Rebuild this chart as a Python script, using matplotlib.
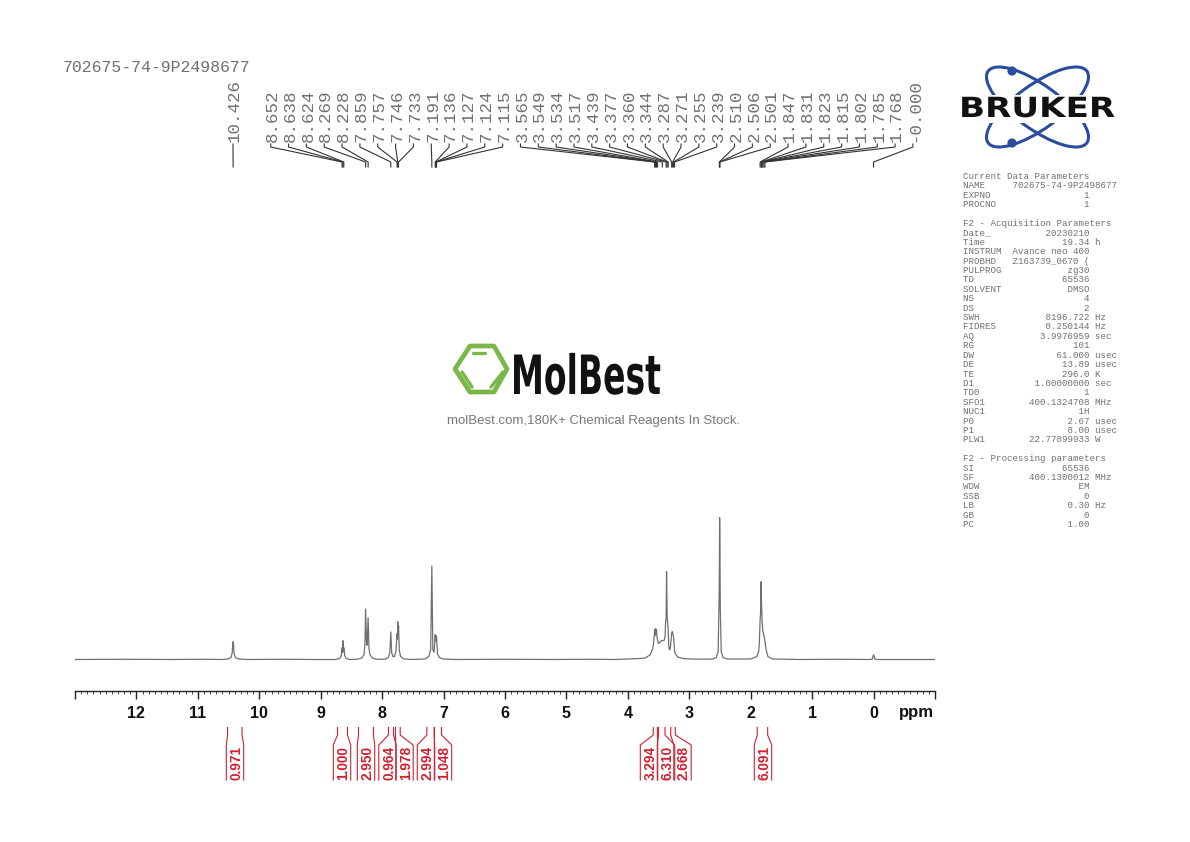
import matplotlib
matplotlib.use("Agg")
import matplotlib.pyplot as plt
from matplotlib.patches import Ellipse, Polygon, Rectangle, Circle
from matplotlib.patheffects import AbstractPathEffect
from matplotlib.transforms import Affine2D

# spectrum: chemical shift and height above baseline
spec_ppm = [13.0, 12.2, 11.4, 10.9, 10.6, 10.5, 10.46, 10.44, 10.43, 10.426, 10.42, 10.41, 10.39, 10.34, 10.2,
            9.6, 9.1, 8.75, 8.69, 8.665, 8.652, 8.645, 8.638, 8.63, 8.624, 8.61, 8.585, 8.53,
            8.4, 8.33, 8.295, 8.28, 8.269, 8.255, 8.245, 8.228, 8.215, 8.2, 8.16, 8.1,
            7.95, 7.9, 7.875, 7.859, 7.845, 7.825, 7.8, 7.775, 7.757, 7.751, 7.746, 7.74, 7.733, 7.72, 7.7, 7.65, 7.55,
            7.3, 7.24, 7.21, 7.191, 7.175, 7.155, 7.136, 7.13, 7.127, 7.124, 7.12, 7.115, 7.1, 7.07, 7.0, 6.8,
            6.0, 5.2, 4.6, 4.2, 3.95, 3.8, 3.72, 3.64, 3.6, 3.585, 3.57, 3.565, 3.557, 3.549, 3.54, 3.534, 3.525, 3.517,
            3.505, 3.48, 3.45, 3.43, 3.41, 3.395, 3.385, 3.377, 3.37, 3.36, 3.344, 3.335, 3.325, 3.31, 3.3, 3.287, 3.28,
            3.271, 3.255, 3.239, 3.22, 3.19, 3.1, 3.0, 2.8,
            2.62, 2.56, 2.53, 2.515, 2.51, 2.506, 2.501, 2.495, 2.48, 2.45, 2.38,
            2.0, 1.9, 1.87, 1.86, 1.847, 1.84, 1.831, 1.825, 1.823, 1.815, 1.802, 1.785, 1.768, 1.75, 1.72, 1.65,
            1.2, 0.6, 0.06, 0.02, 0.0, -0.02, -0.06, -1.0]
spec_int = [0, 0.2, 0, 0.2, 0, 0.6, 2, 7, 17, 18, 15, 6, 2, 0.5, 0,
            0.2, 0, 0, 1, 4, 12, 7, 19, 8, 12, 4, 1, 0,
            0.3, 1.5, 5, 16, 51, 18, 14, 42, 12, 5, 1.5, 0.3,
            0.3, 2, 7, 28, 7, 3, 3, 8, 26, 20, 38, 24, 34, 9, 3, 0.7, 0,
            0.5, 3, 10, 94, 10, 7, 25, 19, 24, 24, 18, 23, 6, 2, 0.5, 0,
            0.2, 0, 0.2, 0, 0.6, 1, 1.5, 4.5, 10, 14.5, 24, 30, 24, 31, 25, 30, 22, 20,
            16, 17, 19, 19, 19, 23, 38, 42, 88, 42, 30, 14, 9.5, 11, 18, 26, 28,
            27, 22, 8, 5, 2.5, 1, 0.5, 0.3,
            0.5, 2, 8, 60, 90, 142, 108, 50, 8, 2, 0.5,
            0.5, 3, 8, 16, 40, 46, 78, 60, 55, 38, 28, 24, 18, 10, 3, 0.5,
            0, 0.2, 0, 0.5, 5, 0.5, 0, 0]

axis_ticks = [13, 12, 11, 10, 9, 8, 7, 6, 5, 4, 3, 2, 1, 0, -1]
axis_labels = ["", "12", "11", "10", "9", "8", "7", "6", "5", "4", "3", "2", "1", "0", ""]

peak_labels = ["10.426",
               "8.652", "8.638", "8.624", "8.269", "8.228", "7.859", "7.757", "7.746", "7.733",
               "7.191", "7.136", "7.127", "7.124", "7.115",
               "3.565", "3.549", "3.534", "3.517", "3.439", "3.377", "3.360", "3.344",
               "3.287", "3.271", "3.255", "3.239",
               "2.510", "2.506", "2.501",
               "1.847", "1.831", "1.823", "1.815", "1.802", "1.785", "1.768", "-0.000"]

integral_values = ["0.971", "1.000", "2.950", "0.964", "1.978", "2.994", "1.048", "3.294", "6.310", "2.668", "6.091"]
integral_left = [10.516, 8.726, 8.385, 7.897, 7.783, 7.272, 7.148, 3.586, 3.501, 3.302, 1.894]
integral_right = [10.281, 8.564, 8.141, 7.815, 7.706, 7.153, 7.034, 3.520, 3.395, 3.228, 1.724]
integral_centre_px = [235, 342, 366, 387.5, 404.5, 426, 443, 649, 666, 682.5, 763]

param_names = ["Date_", "Time", "INSTRUM", "PROBHD", "PULPROG", "TD", "SOLVENT", "NS", "DS", "SWH", "FIDRES",
               "AQ", "RG", "DW", "DE", "TE", "D1", "TD0", "SFO1", "NUC1", "P0", "P1", "PLW1"]
param_values = ["20230210", "19.34", "Avance neo 400", "Z163739_0670 (", "zg30", "65536", "DMSO", "4", "2",
                "8196.722", "0.250144", "3.9976959", "101", "61.000", "13.89", "296.0", "1.00000000", "1",
                "400.1324708", "1H", "2.67", "8.00", "22.77899933"]
param_units = ["", "h", "", "", "", "", "", "", "", "Hz", "Hz", "sec", "", "usec", "usec", "K", "sec", "",
               "MHz", "", "usec", "usec", "W"]
proc_names = ["SI", "SF", "WDW", "SSB", "LB", "GB", "PC"]
proc_values = ["65536", "400.1300012", "EM", "0", "0.30", "0", "1.00"]
proc_units = ["", "MHz", "", "", "Hz", "", ""]

sample_name = "702675-74-9P2498677"
GREY = "#707070"
RED = "#d0202e"
MONO = "Liberation Mono"
SANS = "Liberation Sans"


class StretchX(AbstractPathEffect):
    """Widen or squeeze a text along its own baseline."""
    def __init__(self, factor):
        self.factor = factor

    def draw_path(self, renderer, gc, tpath, affine, rgbFace=None):
        renderer.draw_path(gc, tpath, Affine2D().scale(self.factor, 1) + affine, rgbFace)


W, H = 1190, 842
fig = plt.figure(figsize=(W / 100, H / 100), dpi=100, facecolor="white")

# spectrum axes: 1 unit of height is 1 pixel, baseline at y=659.5
top_px, axis_px, base_px = 160, 691, 659.5
ax = fig.add_axes([75 / W, (H - axis_px) / H, 860 / W, (axis_px - top_px) / H])
ax.set_xlim(13, -1)
ax.set_ylim(base_px - axis_px, base_px - top_px)
ax.patch.set_alpha(0)
ax.plot(spec_ppm, spec_int, color="#707070", lw=0.9, solid_joinstyle="miter")

for side in ["top", "left", "right"]:
    ax.spines[side].set_visible(False)
ax.spines["bottom"].set_color("#222222")
ax.spines["bottom"].set_linewidth(1.0)
ax.yaxis.set_visible(False)
ax.set_xticks(axis_ticks)
ax.set_xticklabels(axis_labels, fontfamily=SANS, fontweight="bold", fontsize=11.5, color="#111111")
ax.set_xticks([t / 10 for t in range(-10, 131) if t % 10], minor=True)
ax.tick_params(axis="x", which="major", length=6, width=1.0, color="#222222", pad=4.5)
ax.tick_params(axis="x", which="minor", length=2.2, width=0.7, color="#444444")

# overlay in image pixels for labels, connectors and logos
ov = fig.add_axes([0, 0, 1, 1])
ov.set_xlim(0, W)
ov.set_ylim(H, 0)
ov.axis("off")
ov.patch.set_alpha(0)


def ppm_px(ppm):
    return ax.transData.transform((ppm, 0))[0]


ov.text(916.5, 712.5, "ppm", family=SANS, weight="bold", fontsize=12, color="#111111", ha="center", va="center")
ov.text(63, 67.5, sample_name, family=MONO, fontsize=11.9, color=GREY, ha="left", va="center")

# peak picks
for i, label in enumerate(peak_labels):
    slot_x = 233 if i == 0 else 270.7 + 17.84 * (i - 1)
    peak_x = ppm_px(float(label))
    ov.text(slot_x + 1.5, 141.5, label, family=MONO, fontsize=12.6, color=GREY, rotation=90, ha="center", va="bottom")
    ov.plot([slot_x, slot_x, peak_x, peak_x], [144, 147, 162, 167], color="#333333", lw=0.8)

# integrals
for val, left, right, centre in zip(integral_values, integral_left, integral_right, integral_centre_px):
    for tick, outer in [(ppm_px(left), centre - 8.7), (ppm_px(right), centre + 8.7)]:
        ov.plot([tick, tick, outer, outer], [727.5, 735, 745, 780], color=RED, lw=0.8)
    ov.text(centre + 1.5, 779.5, val, family=SANS, weight="bold", fontsize=9.8, color=RED, rotation=90,
            ha="center", va="bottom")

# parameter block
lines = ["Current Data Parameters",
         f"{'NAME':<9}{sample_name}",
         f"{'EXPNO':<8}{'1':>15}",
         f"{'PROCNO':<8}{'1':>15}",
         "",
         "F2 - Acquisition Parameters"]
lines += [f"{n:<8}{v:>15} {u}" for n, v, u in zip(param_names, param_values, param_units)]
lines += ["", "F2 - Processing parameters"]
lines += [f"{n:<8}{v:>15} {u}" for n, v, u in zip(proc_names, proc_values, proc_units)]
for i, line in enumerate(lines):
    ov.text(963, 176.5 + 9.405 * i, line, family=MONO, fontsize=6.58, color="#707070", ha="left", va="center")

# Bruker logo
BLUE = "#2b4c9f"
for angle in [36, -36]:
    ov.add_patch(Ellipse((1037.5, 107), 122, 44, angle=angle, fill=False, ec=BLUE, lw=2.2))
ov.add_patch(Rectangle((955, 95), 165, 28, fc="white", ec="none", zorder=2.5))
for dot_y in [71, 143]:
    ov.add_patch(Circle((1012, dot_y), 4.6, fc=BLUE, ec="none", zorder=3))
ov.text(959, 117, "BRUKER", family="DejaVu Sans", weight="bold", fontsize=20, color="#111111", ha="left",
        va="baseline", zorder=4, path_effects=[StretchX(1.23)])

# MolBest watermark
GREEN = "#7ab648"
ov.add_patch(Polygon([(455, 369), (470, 346), (494, 346), (507, 369), (494, 392), (470, 392)], closed=True,
                     fill=False, ec=GREEN, lw=3.4, joinstyle="round"))
for xs, ys in [((473, 485), (353, 353)), ((462, 472), (372, 387)), ((503, 491), (372, 387))]:
    ov.plot(xs, ys, color=GREEN, lw=2.4, solid_capstyle="round")
ov.text(511, 394, "MolBest", family="DejaVu Sans", weight="bold", fontsize=39, color="#111111", ha="left",
        va="baseline", path_effects=[StretchX(0.61)])
ov.text(594, 421, "molBest.com,180K+ Chemical Reagents In Stock.", family=SANS, fontsize=9.5, color="#777777",
        ha="center", va="center")

fig.savefig("out.png", dpi=100)
